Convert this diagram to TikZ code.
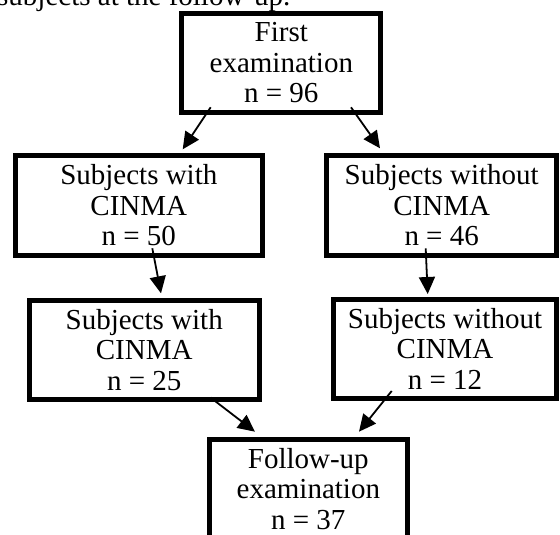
\documentclass[tikz,border=0pt]{standalone}
\usepackage{fontspec}
\setmainfont{Liberation Serif}
\usetikzlibrary{arrows.meta, calc}

\begin{document}
\begin{tikzpicture}[
  x=1pt, y=-1pt,
  >={Triangle[length=17pt, width=16pt]},
  stagebox/.style={draw, rectangle, line width=5pt, fill=white, inner sep=0pt, align=center,
    font=\fontsize{29}{30.5}\selectfont},
  flow/.style={->, line width=1.8pt, black}
]
\useasboundingbox (0,0) rectangle (560,535);

% Text running above the chart
\node[anchor=base west, inner sep=0pt, font=\fontsize{29}{30.5}\selectfont] (lead) at (-3,6) {subjects at the follow-up.};

% First visit
\node[stagebox, minimum width=199pt, minimum height=99pt] (first) at (281.3,63) {First\\examination\\n = 96};

% Split by CINMA
\node[stagebox, minimum width=247.3pt, minimum height=100pt] (with1)    at (138.8,205.2) {Subjects with\\CINMA\\n = 50};
\node[stagebox, minimum width=229.7pt, minimum height=100pt] (without1) at (441.7,205.2) {Subjects without\\CINMA\\n = 46};

% Seen again
\node[stagebox, minimum width=230pt, minimum height=99.6pt] (with2)    at (144.2,350) {Subjects with\\CINMA\\n = 25};
\node[stagebox, minimum width=223pt, minimum height=99.3pt] (without2) at (445,348.8) {Subjects without\\CINMA\\n = 12};

% Follow-up
\node[stagebox, minimum width=198.3pt, minimum height=99pt] (follow) at (308.3,489) {Follow-up\\examination\\n = 37};

% Flows
\draw[flow] ([shift={(-70.6,44.3)}]first.center) -- ([shift={(43.9,-55.9)}]with1.center);
\draw[flow] ([shift={(69.7,44.3)}]first.center) -- ([shift={(-61.7,-56.9)}]without1.center);
\draw[flow] ([shift={(13.5,43.1)}]with1.center) -- ([shift={(16.8,-56.7)}]with2.center);
\draw[flow] ([shift={(-16,43.1)}]without1.center) -- ([shift={(-17.3,-54.8)}]without2.center);
\draw[flow] ([shift={(66.5,47.7)}]with2.center) -- ([shift={(-53.3,-57.3)}]follow.center);
\draw[flow] ([shift={(-53.3,42.2)}]without2.center) -- ([shift={(50.7,-57.3)}]follow.center);
\end{tikzpicture}
\end{document}
